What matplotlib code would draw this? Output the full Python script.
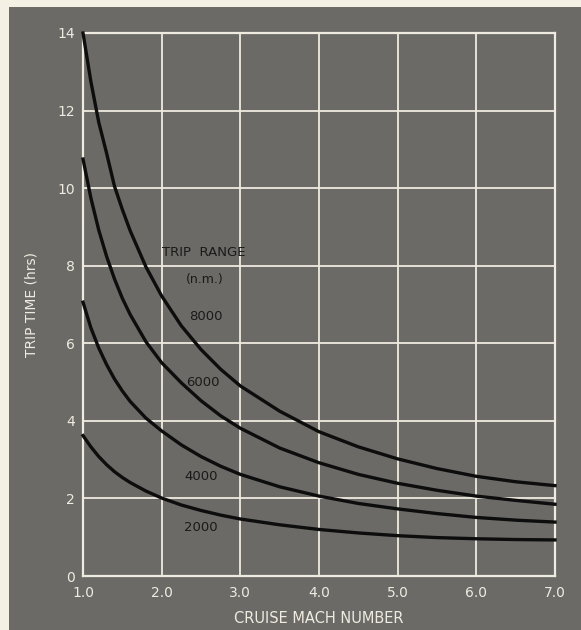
import matplotlib.pyplot as plt
from matplotlib.patches import Rectangle

# values: cruise mach number vs trip time (hrs)
mach = [1.0, 1.1, 1.2, 1.3, 1.4, 1.5, 1.6, 1.8, 2.0, 2.25, 2.5, 2.75, 3.0, 3.5, 4.0, 4.5, 5.0, 5.5, 6.0, 6.5, 7.0]

time_8000 = [14.0, 12.75, 11.7, 10.9, 10.05, 9.45, 8.9, 7.97, 7.22, 6.45, 5.84, 5.33, 4.9, 4.25, 3.72, 3.33, 3.02, 2.77, 2.57, 2.43, 2.33]
time_6000 = [10.75, 9.75, 8.92, 8.24, 7.66, 7.16, 6.74, 6.04, 5.5, 4.98, 4.52, 4.13, 3.81, 3.3, 2.92, 2.62, 2.39, 2.21, 2.06, 1.95, 1.85]
time_4000 = [7.06, 6.4, 5.88, 5.45, 5.08, 4.77, 4.5, 4.07, 3.74, 3.38, 3.08, 2.83, 2.62, 2.3, 2.06, 1.87, 1.73, 1.61, 1.51, 1.44, 1.39]
time_2000 = [3.62, 3.33, 3.08, 2.87, 2.69, 2.54, 2.41, 2.19, 2.01, 1.83, 1.69, 1.57, 1.47, 1.32, 1.2, 1.11, 1.04, 0.99, 0.96, 0.94, 0.93]

x_ticks = [1.0, 2.0, 3.0, 4.0, 5.0, 6.0, 7.0]
x_labels = ['1.0', '2.0', '3.0', '4.0', '5.0', '6.0', '7.0']
y_ticks = [0, 2, 4, 6, 8, 10, 12, 14]

range_labels = ['8000', '6000', '4000', '2000']
label_pos = [(2.56, 6.7), (2.52, 5.0), (2.50, 2.56), (2.50, 1.25)]

paper = '#f4f0e3'
gray = '#6b6a66'
light = '#efebe0'

plt.rcParams['font.family'] = ['DejaVu Sans']

fig = plt.figure(figsize=(5.81, 6.30), dpi=100, facecolor=gray)
# cream paper strips along the top and left edges
fig.patches.append(Rectangle((0, 0), 9 / 581, 1, transform=fig.transFigure,
                             facecolor=paper, edgecolor='none'))
fig.patches.append(Rectangle((0, 1 - 7 / 630), 1, 7 / 630, transform=fig.transFigure,
                             facecolor=paper, edgecolor='none'))

ax = fig.add_axes([83 / 581, 1 - 576 / 630, 472 / 581, 543 / 630])
ax.set_facecolor(gray)
ax.set_xlim(1, 7)
ax.set_ylim(0, 14)

ax.set_xticks(x_ticks)
ax.set_xticklabels(x_labels)
ax.set_yticks(y_ticks)
ax.tick_params(length=0, colors=light, labelsize=10)
ax.tick_params(axis='x', pad=7)
ax.tick_params(axis='y', pad=6)
ax.grid(True, color=light, linewidth=1.3)
ax.set_axisbelow(True)
for s in ax.spines.values():
    s.set_color(light)
    s.set_linewidth(1.6)

for t in [time_8000, time_6000, time_4000, time_2000]:
    ax.plot(mach, t, color='#0d0d0d', linewidth=2.4, solid_joinstyle='round', clip_on=False, zorder=3)

ax.text(2.53, 8.35, 'TRIP  RANGE', color='#1a1a1a', fontsize=9.5, ha='center', va='center')
ax.text(2.55, 7.65, '(n.m.)', color='#1a1a1a', fontsize=9, ha='center', va='center')
for lab, (x, y) in zip(range_labels, label_pos):
    ax.text(x, y, lab, color='#1a1a1a', fontsize=9.5, ha='center', va='center')

ax.set_xlabel('CRUISE MACH NUMBER', color=light, fontsize=10.5, labelpad=8)
ax.set_ylabel('TRIP TIME (hrs)', color=light, fontsize=10, labelpad=13)

fig.savefig('out.png', dpi=100, facecolor=gray)
